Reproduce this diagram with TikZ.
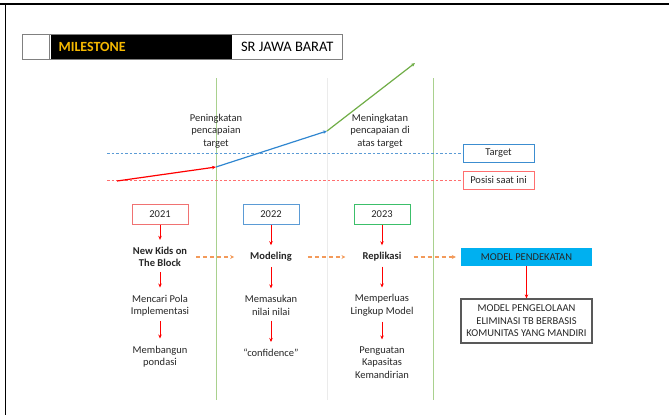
\documentclass[tikz,border=0pt]{standalone}
\usepackage{fontspec}
\setmainfont{Carlito}
\usetikzlibrary{arrows.meta, positioning, calc}

\definecolor{milegold}{HTML}{F5B800}
\definecolor{tgtblue}{HTML}{3C8DD0}
\definecolor{dotblue}{HTML}{5B9BD5}
\definecolor{posred}{HTML}{FF6F6F}
\definecolor{trendblue}{HTML}{2F86D0}
\definecolor{trendgreen}{HTML}{70AD47}
\definecolor{phasegreen}{HTML}{A9D18E}
\definecolor{flowgold}{HTML}{F39A5A}
\definecolor{yr21}{HTML}{F07272}
\definecolor{yr23}{HTML}{3CBF6A}
\definecolor{modelcyan}{HTML}{00B0F0}

\begin{document}
\begin{tikzpicture}[x=1pt, y=-1pt, font=\fontsize{10.5}{12.5}\selectfont, text=black!85]
            % Define styles
            \tikzstyle{yearbox} = [rectangle, draw, line width=1pt, minimum width=56pt, minimum height=20pt, inner sep=0pt]
            \tikzstyle{legendbox} = [rectangle, draw, line width=1pt, minimum width=71pt, minimum height=18pt, inner sep=0pt]
            \tikzstyle{stagetxt} = [align=center, inner sep=1pt]
            \tikzstyle{redarrow} = [draw, red, line width=0.9pt, -{Stealth[length=4pt, width=3.5pt]}]
            \tikzstyle{flowarrow} = [draw, flowgold, line width=1.2pt, dash pattern=on 4pt off 3pt, -{Stealth[length=4pt, width=4pt]}]
            \tikzstyle{dotline} = [line width=1pt, dash pattern=on 2.5pt off 2pt]

            \useasboundingbox (0,0) rectangle (669,415);

            % Frame
            \draw[line width=1.5pt] (0,4) -- (669,4);
            \draw[line width=1.5pt] (5.5,4) -- (5.5,415);

            % Header bar
            \node[draw=gray, thick, fill=white, minimum width=27pt, minimum height=25pt, anchor=north west] (hdrsq) at (22,34) {};
            \node[fill=black, minimum width=181pt, minimum height=25pt, anchor=north west] (hdrbar) at (51,34) {};
            \node[anchor=west, text=milegold, font=\bfseries\fontsize{14}{14}\selectfont] (hdrtitle) at ([xshift=4pt]hdrbar.west) {MILESTONE};
            \node[fill=white, minimum width=110pt, minimum height=25pt, anchor=north west, font=\fontsize{14.5}{14.5}\selectfont, text=black] (hdrsr) at (232,34) {SR JAWA BARAT};
            \draw[gray, thick] (hdrsq.north west) rectangle (hdrsr.south east);

            % Phase separators
            \draw[phasegreen, line width=1pt] (216,78) -- (216,400);
            \draw[black!8, line width=0.8pt] (327,78) -- (327,400);
            \draw[phasegreen, line width=1pt] (433,78) -- (433,400);

            % Legend
            \node[legendbox, draw=tgtblue] (target) at (498.5,153) {Target};
            \node[legendbox, draw=posred] (posisi) at (498.5,180) {Posisi saat ini};
            \coordinate (tgtstart) at (107,153);
            \coordinate (posstart) at (107,180);
            \draw[dotline, dotblue] (tgtstart) -- (target.west);
            \draw[dotline, posred] (posstart) -- (posisi.west);

            % Trend
            \coordinate (t0) at (117,181);
            \coordinate (t1) at (216,167);
            \coordinate (t2) at (327,131);
            \coordinate (t3) at (415,63);
            \draw[red, line width=1.2pt, -{Stealth[length=4pt, width=3.5pt]}] (t0) -- (t1);
            \draw[trendblue, line width=1.2pt, -{Stealth[length=4pt, width=3.5pt]}] (t1) -- (t2);
            \draw[trendgreen, line width=1.2pt, -{Stealth[length=4pt, width=3.5pt]}] (t2) -- (t3);

            \node[stagetxt] (lblup) at (216,131) {Peningkatan\\pencapaian\\target};
            \node[stagetxt] (lblover) at (380,131) {Meningkatan\\pencapaian di\\atas target};

            % Years
            \node[yearbox, draw=yr21] (y2021) at (160,214) {2021};
            \node[yearbox, draw=dotblue] (y2022) at (271,214) {2022};
            \node[yearbox, draw=yr23] (y2023) at (382,214) {2023};

            % Stages
            \node[stagetxt, font=\bfseries\fontsize{10.5}{12.5}\selectfont] (kids) at (160,257) {New Kids on\\The Block};
            \node[stagetxt, font=\bfseries\fontsize{10.5}{12.5}\selectfont] (modeling) at (271,257) {Modeling};
            \node[stagetxt, font=\bfseries\fontsize{10.5}{12.5}\selectfont] (replikasi) at (382,257) {Replikasi};
            \node[rectangle, fill=modelcyan, minimum width=131pt, minimum height=18pt, inner sep=0pt] (pendekatan) at (526.5,257) {MODEL PENDEKATAN};

            \node[stagetxt] (pola) at (160,305.5) {Mencari Pola\\Implementasi};
            \node[stagetxt] (nilai) at (271,305.5) {Memasukan\\nilai nilai};
            \node[stagetxt] (lingkup) at (382,305.5) {Memperluas\\Lingkup Model};
            \node[rectangle, draw=black!65, line width=1.2pt, align=center, minimum width=131pt, minimum height=44pt, inner sep=0pt] (pengelolaan) at (526.5,321) {MODEL PENGELOLAAN\\ELIMINASI TB BERBASIS\\KOMUNITAS YANG MANDIRI};

            \node[stagetxt] (pondasi) at (160,356.5) {Membangun\\pondasi};
            \node[stagetxt] (conf) at (271,353) {``confidence''};
            \node[stagetxt] (mandiri) at (382,362.5) {Penguatan\\Kapasitas\\Kemandirian};

            % Vertical steps
            \foreach \yr/\st in {y2021/kids, y2022/modeling, y2023/replikasi}
                \draw[redarrow, shorten >=6pt] (\yr.south) -- (\st.north);
            \foreach \a/\b in {kids/pola, modeling/nilai, replikasi/lingkup, pola/pondasi, nilai/conf, lingkup/mandiri}
                \draw[redarrow, shorten <=4pt, shorten >=6pt] (\a.south) -- (\b.north);
            \draw[redarrow] (pendekatan.south) -- (pengelolaan.north);

            % Flow between stages
            \draw[flowarrow, shorten <=8pt, shorten >=15pt] (kids.east) -- (modeling.west);
            \draw[flowarrow, shorten <=15pt, shorten >=16pt] (modeling.east) -- (replikasi.west);
            \draw[flowarrow, shorten <=11pt, shorten >=5pt] (replikasi.east) -- (pendekatan.west);
        \end{tikzpicture}
\end{document}
